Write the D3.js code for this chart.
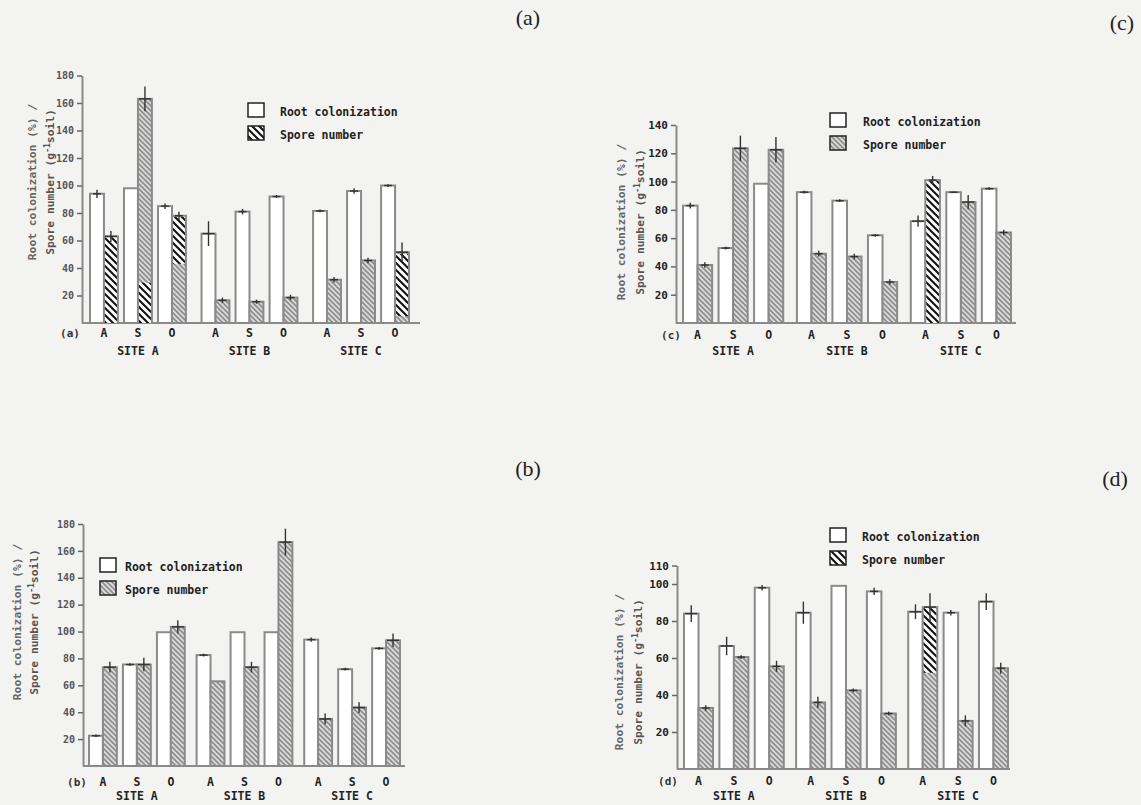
<!DOCTYPE html>
<html>
<head>
<meta charset="utf-8">
<script src="https://cdn.jsdelivr.net/npm/d3@7"></script>
<style>
  body { margin: 0; background: #f3f3f2; }
  svg { display: block; }
  text { font-family: "DejaVu Sans Mono", monospace; }
</style>
</head>
<body>
<script>
// categories
const sites = ["SITE A", "SITE B", "SITE C"];
const treatments = ["A", "S", "O"];

// (a) values, order: site A (A,S,O), site B (A,S,O), site C (A,S,O)
const rootA     = [94, 98, 85, 65, 81, 92, 81.5, 96, 100];
const rootAErr  = [3, 0, 2, 9, 2, 1, 1, 2, 1];
const sporeA    = [63, 163, 78, 16.5, 15.5, 18.5, 31.5, 45.5, 51.5];
const sporeAErr = [4, 9, 3, 2, 1.5, 2, 2, 2, 7];

// (b)
const rootB     = [22.5, 75.5, 99.5, 82.5, 99.5, 99.5, 94, 72, 87.5];
const rootBErr  = [1, 1, 0, 1, 0, 0, 1.5, 1, 1];
const sporeB    = [73.5, 75.5, 103.5, 63, 73.5, 166.5, 35, 43.5, 93.5];
const sporeBErr = [4, 5, 5, 0, 4, 10, 4, 4, 5];

// (c)
const rootC     = [83, 53, 98.5, 92.5, 86.5, 62, 72, 92.5, 95];
const rootCErr  = [2, 1, 0, 1, 1, 1, 4, 0.5, 1];
const sporeC    = [41, 123.5, 122.5, 49, 47, 29, 101, 85.5, 64];
const sporeCErr = [2, 9, 9, 2, 2, 2, 3, 5, 2];

// (d)
const rootD     = [84, 66.5, 98, 84.5, 99, 96, 85, 84.5, 90.5];
const rootDErr  = [4.5, 5, 1.5, 6, 0, 2, 4, 1.5, 4.5];
const sporeD    = [33, 60.5, 55.5, 36, 42.5, 30, 87.5, 26, 54.5];
const sporeDErr = [1.5, 1, 3, 3, 1, 1, 7.5, 3, 3];

// tick labels
const ticks180 = [20, 40, 60, 80, 100, 120, 140, 160, 180];
const ticks140 = [20, 40, 60, 80, 100, 120, 140];
const ticks110 = [20, 40, 60, 80, 100, 110];

const legendLabels = ["Root colonization", "Spore number"];

// parts of spore bars where the scan shows the darker, sparse hatching
const darkParts = {
  a: [[0, 0, 63], [1, 0, 30], [2, 43, 78], [8, 5, 51]],
  b: [],
  c: [[6, 0, 101]],
  d: [[6, 52, 87.5]]
};

const panels = [
  { id: "a", root: rootA, rootErr: rootAErr, spore: sporeA, sporeErr: sporeAErr, yMax: 180, ticks: ticks180,
    axisX: 82, axisEnd: 420, baseY: 323, topY: 75.5, barsLeft: 90, barsRight: 409, sitePad: 0.14,
    lblDy: 14, siteDy: 32, tickFont: 10, titleX: [32, 50], titleY: 182,
    legend: { x: 248, y: 103, tx: 280 }, letter: { x: 528, y: 25 }, tag: { x: 70 } },
  { id: "b", root: rootB, rootErr: rootBErr, spore: sporeB, sporeErr: sporeBErr, yMax: 180, ticks: ticks180,
    axisX: 83, axisEnd: 405, baseY: 766, topY: 524, barsLeft: 89, barsRight: 400, sitePad: 0.11,
    lblDy: 20, siteDy: 34, tickFont: 10, titleX: [17, 34], titleY: 622,
    legend: { x: 100, y: 558, tx: 125 }, letter: { x: 528, y: 476 }, tag: { x: 77 } },
  { id: "c", root: rootC, rootErr: rootCErr, spore: sporeC, sporeErr: sporeCErr, yMax: 140, ticks: ticks140,
    axisX: 676, axisEnd: 1016, baseY: 323, topY: 125, barsLeft: 683, barsRight: 1011, sitePad: 0.12,
    lblDy: 16, siteDy: 32, tickFont: 11, titleX: [621, 640], titleY: 222,
    legend: { x: 830, y: 113, tx: 863 }, letter: { x: 1122, y: 30 }, tag: { x: 671 } },
  { id: "d", root: rootD, rootErr: rootDErr, spore: sporeD, sporeErr: sporeDErr, yMax: 110, ticks: ticks110,
    axisX: 677, axisEnd: 1010, baseY: 769, topY: 565.5, barsLeft: 684, barsRight: 1008, sitePad: 0.11,
    lblDy: 16, siteDy: 31, tickFont: 11, titleX: [619, 638], titleY: 672,
    legend: { x: 830, y: 528, tx: 862 }, letter: { x: 1115, y: 486 }, tag: { x: 668 } }
];

const svg = d3.select("body")
  .append("svg")
    .attr("width", 1141)
    .attr("height", 805);

// hatch patterns
const defs = svg.append("defs");
const grey = defs.append("pattern")
    .attr("id", "hatchGrey")
    .attr("patternUnits", "userSpaceOnUse")
    .attr("width", 5).attr("height", 5);
grey.append("rect").attr("width", 5).attr("height", 5).attr("fill", "#dadada");
grey.append("path")
    .attr("d", "M0,0 L5,5 M-1,4 L1,6 M4,-1 L6,1")
    .attr("stroke", "#8c8c8c").attr("stroke-width", 1.6);

const dark = defs.append("pattern")
    .attr("id", "hatchDark")
    .attr("patternUnits", "userSpaceOnUse")
    .attr("width", 7).attr("height", 7);
dark.append("rect").attr("width", 7).attr("height", 7).attr("fill", "#fafafa");
dark.append("path")
    .attr("d", "M0,0 L7,7 M-1,6 L1,8 M6,-1 L8,1")
    .attr("stroke", "#111").attr("stroke-width", 2);

const lineCol = "#8a8a8a";

function drawPanel(p) {
  const g = svg.append("g");

  const y = d3.scaleLinear().domain([0, p.yMax]).range([p.baseY, p.topY]);
  const xSite = d3.scaleBand().domain(sites).range([p.barsLeft, p.barsRight]).paddingInner(p.sitePad);
  const xTreat = d3.scaleBand().domain(treatments).range([0, xSite.bandwidth()]).paddingInner(0.18);
  const xSeries = d3.scaleBand().domain(["root", "spore"]).range([0, xTreat.bandwidth()]);

  const rows = [];
  sites.forEach((s, i) => treatments.forEach((t, j) => {
    const k = i * 3 + j;
    rows.push({ k: k, site: s, treat: t,
      root: p.root[k], rootErr: p.rootErr[k], spore: p.spore[k], sporeErr: p.sporeErr[k],
      x0: xSite(s) + xTreat(t) });
  }));

  // Y axis
  const yAxis = g.append("g")
      .attr("transform", `translate(${p.axisX},0)`)
      .call(d3.axisLeft(y).tickValues(p.ticks).tickSize(5).tickSizeOuter(0).tickPadding(3));
  yAxis.select(".domain").attr("stroke", lineCol).attr("stroke-width", 2);
  yAxis.selectAll(".tick line").attr("stroke", "#666").attr("stroke-width", 1.5);
  yAxis.selectAll(".tick text")
      .style("font-family", "DejaVu Sans Mono, monospace")
      .style("font-size", p.tickFont + "px")
      .style("font-weight", "bold")
      .attr("fill", p.id === "a" || p.id === "b" ? "#555" : "#222");

  // X axis line
  g.append("line")
      .attr("x1", p.axisX).attr("x2", p.axisEnd)
      .attr("y1", p.baseY).attr("y2", p.baseY)
      .attr("stroke", lineCol).attr("stroke-width", 2);

  // white bars: root colonization
  g.selectAll(".root")
    .data(rows)
    .join("rect")
      .attr("class", "root")
      .attr("x", d => d.x0 + xSeries("root"))
      .attr("y", d => y(d.root))
      .attr("width", xSeries.bandwidth())
      .attr("height", d => p.baseY - y(d.root))
      .attr("fill", "#ffffff")
      .attr("stroke", lineCol)
      .attr("stroke-width", 2);

  // hatched bars: spore number
  g.selectAll(".spore")
    .data(rows)
    .join("rect")
      .attr("class", "spore")
      .attr("x", d => d.x0 + xSeries("spore"))
      .attr("y", d => y(d.spore))
      .attr("width", xSeries.bandwidth())
      .attr("height", d => p.baseY - y(d.spore))
      .attr("fill", "url(#hatchGrey)")
      .attr("stroke", lineCol)
      .attr("stroke-width", 2);

  // darker hatching seen on parts of some bars
  g.selectAll(".darkpart")
    .data(darkParts[p.id])
    .join("rect")
      .attr("x", d => rows[d[0]].x0 + xSeries("spore") + 1)
      .attr("y", d => y(d[2]) + 1)
      .attr("width", xSeries.bandwidth() - 2)
      .attr("height", d => y(d[1]) - y(d[2]) - 1)
      .attr("fill", "url(#hatchDark)");

  // error marks
  const errs = [];
  rows.forEach(d => {
    errs.push({ cx: d.x0 + xSeries("root") + xSeries.bandwidth() / 2, v: d.root, e: d.rootErr });
    errs.push({ cx: d.x0 + xSeries("spore") + xSeries.bandwidth() / 2, v: d.spore, e: d.sporeErr });
  });
  g.selectAll(".errv")
    .data(errs.filter(d => d.e > 0))
    .join("line")
      .attr("x1", d => d.cx).attr("x2", d => d.cx)
      .attr("y1", d => y(d.v - d.e)).attr("y2", d => y(d.v + d.e))
      .attr("stroke", "#333").attr("stroke-width", 1.4);
  g.selectAll(".errh")
    .data(errs.filter(d => d.e > 0))
    .join("line")
      .attr("x1", d => d.cx - (d.e >= 4 ? 6 : 4)).attr("x2", d => d.cx + (d.e >= 4 ? 6 : 4))
      .attr("y1", d => y(d.v)).attr("y2", d => y(d.v))
      .attr("stroke", "#333").attr("stroke-width", 1.4);

  // treatment labels
  g.selectAll(".treat")
    .data(rows)
    .join("text")
      .attr("x", d => d.x0 + xTreat.bandwidth() / 2)
      .attr("y", p.baseY + p.lblDy)
      .attr("text-anchor", "middle")
      .style("font-size", "11.5px")
      .style("font-weight", "bold")
      .attr("fill", "#222")
      .text(d => d.treat);

  // site labels
  g.selectAll(".site")
    .data(sites)
    .join("text")
      .attr("x", d => xSite(d) + xSite.bandwidth() / 2)
      .attr("y", p.baseY + p.siteDy)
      .attr("text-anchor", "middle")
      .style("font-size", "11.5px")
      .style("font-weight", "bold")
      .attr("fill", "#222")
      .text(d => d);

  // panel tag at the left of the labels
  g.append("text")
      .attr("x", p.tag.x)
      .attr("y", p.baseY + p.lblDy)
      .attr("text-anchor", "middle")
      .style("font-size", "11px")
      .style("font-weight", "bold")
      .attr("fill", "#333")
      .text("(" + p.id + ")");

  // y axis title, two lines
  g.append("text")
      .attr("transform", `translate(${p.titleX[0]},${p.titleY}) rotate(-90)`)
      .attr("text-anchor", "middle")
      .attr("dy", "0.35em")
      .style("font-size", "11.3px")
      .style("font-weight", "bold")
      .attr("fill", "#666")
      .text("Root colonization (%) /");
  const t2 = g.append("text")
      .attr("transform", `translate(${p.titleX[1]},${p.titleY}) rotate(-90)`)
      .attr("text-anchor", "middle")
      .attr("dy", "0.35em")
      .style("font-size", "11.3px")
      .style("font-weight", "bold")
      .attr("fill", "#555");
  t2.append("tspan").text("Spore number (g");
  t2.append("tspan").attr("baseline-shift", "super").style("font-size", "8px").text("-1");
  t2.append("tspan").text("soil)");

  // legend
  const lg = g.append("g");
  legendLabels.forEach((lab, i) => {
    const by = p.legend.y + i * 23;
    lg.append("rect")
        .attr("x", p.legend.x).attr("y", by)
        .attr("width", 16).attr("height", 14)
        .attr("fill", i === 0 ? "#ffffff" : (p.id === "a" || p.id === "d" ? "url(#hatchDark)" : "url(#hatchGrey)"))
        .attr("stroke", "#222").attr("stroke-width", 1.5);
    lg.append("text")
        .attr("x", p.legend.tx)
        .attr("y", by + 9)
        .attr("dy", "0.35em")
        .style("font-size", "11.5px")
        .style("font-weight", "bold")
        .attr("fill", "#222")
        .text(lab);
  });

  // panel letter
  svg.append("text")
      .attr("x", p.letter.x)
      .attr("y", p.letter.y)
      .attr("text-anchor", "middle")
      .style("font-family", "Liberation Serif, serif")
      .style("font-size", "22px")
      .attr("fill", "#222")
      .text("(" + p.id + ")");
}

panels.forEach(drawPanel);
</script>
</body>
</html>
